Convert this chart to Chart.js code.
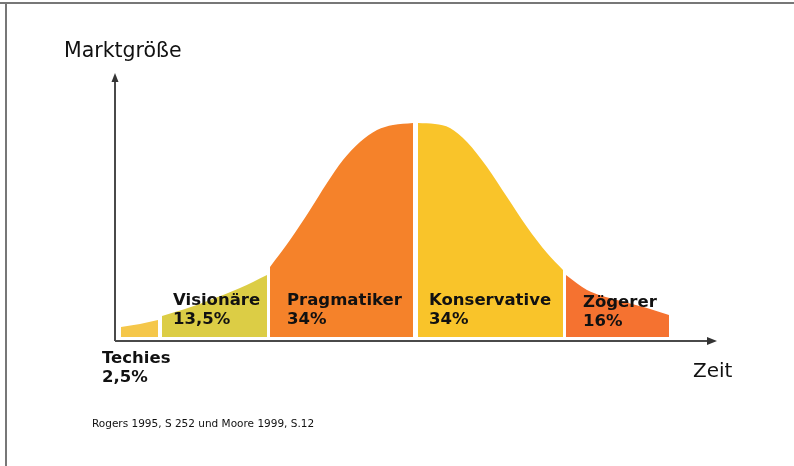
<!DOCTYPE html>
<html>
<head>
<meta charset="utf-8">
<script src="https://cdn.jsdelivr.net/npm/chart.js@4"></script>
<style>
  html, body { margin: 0; padding: 0; background: #fff; }
  #wrap { width: 794px; height: 466px; }
</style>
</head>
<body>
<div id="wrap"><canvas id="chart"></canvas></div>
<script>
// Adoptionskurve (Rogers / Moore).  x = Zeit, y = Marktgröße, both in
// arbitrary units.
let segments = ["Techies", "Visionäre", "Pragmatiker", "Konservative", "Zögerer"]
let shares = [2.5, 13.5, 34, 34, 16]

let techies_x = [6, 25, 43]
let techies_y = [10, 13, 17]
let visionaere_x = [47, 70, 95, 125, 152]
let visionaere_y = [21, 28, 37, 49, 62]
let pragmatiker_x = [155, 175, 195, 212, 228, 245, 262, 278, 298]
let pragmatiker_y = [70, 97, 127, 154, 177, 195, 207, 212, 214]
let konservative_x = [303, 320, 335, 352, 372, 392, 412, 432, 448]
let konservative_y = [214, 213, 209, 195, 170, 140, 110, 84, 67]
let zoegerer_x = [451, 472, 502, 532, 554]
let zoegerer_y = [62, 47, 37, 29, 22]

let source_text = "Rogers 1995, S 252 und Moore 1999, S.12"

function pts(xs, ys) {
    return xs.map((x, i) => ({x: x, y: ys[i]}))
}

let colors = ["#f5c74a", "#dccd45", "#f5822a", "#f9c42a", "#f57230"]
let series = [pts(techies_x, techies_y), pts(visionaere_x, visionaere_y),
              pts(pragmatiker_x, pragmatiker_y), pts(konservative_x, konservative_y),
              pts(zoegerer_x, zoegerer_y)]

let datasets = series.map((d, i) => ({
    label: segments[i],
    data: d,
    backgroundColor: colors[i],
    borderWidth: 0,
    pointRadius: 0,
    fill: "origin",
    cubicInterpolationMode: "monotone",
}))

// Where each label block starts, relative to its segment (pixels), and which
// line it sits on.  Techies is written below the axis.
let label_dx = [-19, 11, 17, 11, 17]
let label_dy = [26, -32, -32, -32, -30]

function pct(v) {
    return String(v).replace(".", ",") + "%"
}

const decor = {
    id: "decor",
    afterDraw(chart) {
        let ctx = chart.ctx
        let xs = chart.scales.x, ys = chart.scales.y
        let left = xs.left, right = xs.right
        let top = ys.top, bottom = ys.bottom

        ctx.save()
        // scan frame, top and left
        ctx.strokeStyle = "#777"
        ctx.lineWidth = 2
        ctx.beginPath()
        ctx.moveTo(0, 3); ctx.lineTo(chart.width, 3)
        ctx.moveTo(6, 3); ctx.lineTo(6, chart.height)
        ctx.stroke()

        // axes with arrow heads
        ctx.strokeStyle = "#4a4a4a"
        ctx.fillStyle = "#333"
        ctx.lineWidth = 2
        ctx.beginPath()
        ctx.moveTo(left, bottom); ctx.lineTo(left, top + 6)
        ctx.moveTo(left, bottom); ctx.lineTo(right - 6, bottom)
        ctx.stroke()
        ctx.beginPath()
        ctx.moveTo(left, top); ctx.lineTo(left - 3.5, top + 9); ctx.lineTo(left + 3.5, top + 9)
        ctx.closePath(); ctx.fill()
        ctx.beginPath()
        ctx.moveTo(right + 2, bottom); ctx.lineTo(right - 8, bottom - 4); ctx.lineTo(right - 8, bottom + 4)
        ctx.closePath(); ctx.fill()

        // axis titles
        ctx.fillStyle = "#111"
        ctx.textBaseline = "alphabetic"
        ctx.font = "20.5px 'DejaVu Sans'"
        ctx.textAlign = "left"
        ctx.fillText("Marktgröße", 64, 57)
        ctx.font = "20px 'DejaVu Sans'"
        ctx.fillText("Zeit", 693, 377)

        // segment labels
        let base = ys.getPixelForValue(0)
        ctx.font = "bold 16.5px 'DejaVu Sans'"
        for (let i = 0; i < segments.length; i++) {
            let x0 = xs.getPixelForValue(series[i][0].x) + label_dx[i]
            let y0 = base + label_dy[i]
            ctx.fillText(segments[i], x0, y0)
            ctx.fillText(pct(shares[i]), x0, y0 + 19)
        }

        // source line
        ctx.font = "10.5px 'DejaVu Sans'"
        ctx.fillText(source_text, 92, 427)
        ctx.restore()
    }
}

new Chart(document.getElementById("chart"), {
    type: "line",
    data: { datasets },
    options: {
        responsive: true,
        maintainAspectRatio: false,
        animation: false,
        layout: { padding: { left: 115, right: 79, top: 73, bottom: 125 } },
        plugins: { legend: { display: false }, tooltip: { enabled: false } },
        scales: {
            x: { type: "linear", min: 0, max: 600, display: false },
            y: { type: "linear", min: -4, max: 264, display: false },
        },
    },
    plugins: [decor],
})
</script>
</body>
</html>
